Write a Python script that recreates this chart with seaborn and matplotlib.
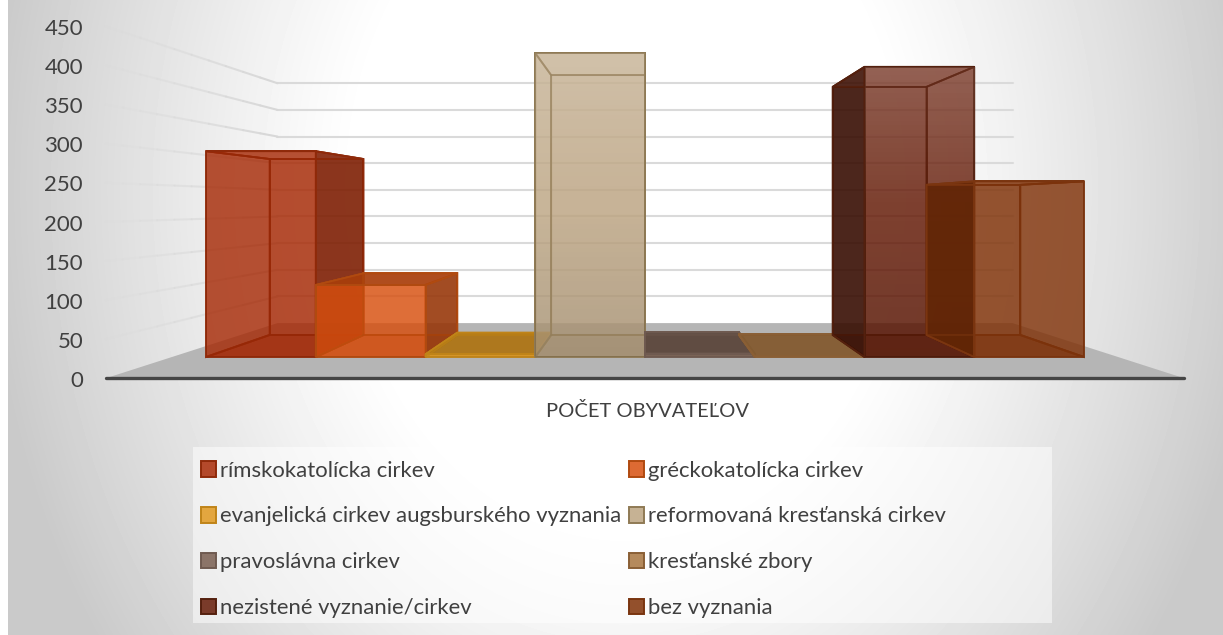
# %%
import numpy as np
import pandas as pd
import matplotlib
matplotlib.use("Agg")
import matplotlib.pyplot as plt
from matplotlib.colors import to_rgb, to_rgba
from matplotlib.patches import Patch, Rectangle
import seaborn as sns

# %% data
cirkvi = ["rímskokatolícka cirkev", "gréckokatolícka cirkev",
          "evanjelická cirkev augsburského vyznania", "reformovaná kresťanská cirkev",
          "pravoslávna cirkev", "kresťanské zbory",
          "nezistené vyznanie/cirkev", "bez vyznania"]
pocet = [300, 105, 4, 443, 5, 1, 423, 256]
y_ticks = [0, 50, 100, 150, 200, 250, 300, 350, 400, 450]
farby = ["#b4492b", "#dd6a33", "#e3a63f", "#c6b294", "#8b7468", "#b58a5c", "#7a3b2a", "#93502c"]
hrany = ["#8f2a0a", "#b04a10", "#c08418", "#8f7a55", "#6f5a50", "#8a5f35", "#54200e", "#7a3510"]
tien = [0.75, 0.7, 0.7, 0.7, 0.7, 0.7, 0.55, 0.75]

df = pd.DataFrame({"cirkev": cirkvi, "pocet": pocet})

# %% page layout, pixels
W, H = 1223, 635
sns.set_theme(style = "white")
plt.rcParams["font.family"] = ["Lato", "DejaVu Sans"]
text_col = "#404040"

fig = plt.figure(figsize = (W / 100, H / 100), dpi = 100)
fig.patch.set_facecolor("white")

def px_axes(left, right, top, bottom, **kw):
    return fig.add_axes([left / W, 1 - bottom / H, (right - left) / W, (bottom - top) / H], **kw)

# background gradient
bg = px_axes(8, W, 0, H, zorder = 0)
xx, yy = np.meshgrid(np.arange(8, W), np.arange(H))
d = np.sqrt(((xx - 625) / 640) ** 2 + ((yy - 190) / 800) ** 2)
shade = 1 - np.clip((d - 0.42) / 0.58, 0, 1) ** 1.15 * 0.21
bg.imshow(shade, cmap = "gray", vmin = 0, vmax = 1, aspect = "auto")
bg.axis("off")
fig.add_artist(Rectangle((193 / W, 1 - 623 / H), 859 / W, 176 / H, transform = fig.transFigure,
                         facecolor = "white", alpha = 0.5, edgecolor = "none", zorder = 1))

# %% bars, front plane of the 3d box
# faces are see-through, so the fill is darker than what ends up on screen
plne = [tuple(np.clip((np.array(to_rgb(c)) - 0.154) / 0.846, 0, 1)) for c in farby]

ax = px_axes(206, 1084, 48.3, 357, zorder = 3)
ax.patch.set_alpha(0)
sns.barplot(data = df, x = "cirkev", y = "pocet", hue = "cirkev", palette = plne,
            width = 1, dodge = False, legend = False, saturation = 1, ax = ax)
ax.set_xlim(-0.5, 7.5)
ax.set_ylim(0, 450)
ax.axis("off")

# one point perspective, s = scale of the depth plane
xc, vc = 3.5, 221.6
s_axis, s_bar, s_wall = 1.14, 0.855, 0.777
x_lo, x_hi = -0.81, 7.81

def proj(x, v, s):
    return xc + (x - xc) * s, vc + (v - vc) * s

def face(pts, c, a, e, z):
    xs, ys = zip(*[proj(*p) for p in pts])
    ax.fill(xs, ys, facecolor = to_rgba(c, a), edgecolor = e, lw = 1.3, clip_on = False, zorder = z)

# floor
face([(x_lo, 0, s_axis), (x_hi, 0, s_axis), (x_hi, 0, s_wall), (x_lo, 0, s_wall)],
     "#b5b5b5", 1, "none", 1)

# gridlines on back wall, the side wall part fades out to the left
for v in y_ticks[1:]:
    xs, ys = zip(proj(x_lo, v, s_wall), proj(x_hi, v, s_wall))
    ax.plot(xs, ys, color = "#dadada", lw = 1.5, clip_on = False, zorder = 2)
    for t0, a in zip(np.arange(0, 1, 0.1), np.arange(0.1, 1.1, 0.1)):
        s0 = s_axis + (s_wall - s_axis) * t0
        s1 = s0 + (s_wall - s_axis) * 0.1
        xs, ys = zip(proj(x_lo, v, s0), proj(x_lo, v, s1))
        ax.plot(xs, ys, color = "#d8d8d8", alpha = a, lw = 1.5, clip_on = False, zorder = 2)

# axis line
xs, ys = zip(proj(x_lo, 0, s_axis), proj(x_hi, 0, s_axis))
ax.plot(xs, ys, color = "#454545", lw = 2.4, solid_capstyle = "round", clip_on = False, zorder = 3)

# %% depth faces of every bar
def darker(c, k):
    return tuple(np.array(c) * k)

for i, (v, c, e, k) in enumerate(zip(pocet, plne, hrany, tien)):
    x0, x1 = i - 0.5, i + 0.5
    z = 10 + 3 * i
    back = [(x0, 0, s_bar), (x1, 0, s_bar), (x1, v, s_bar), (x0, v, s_bar)]
    floor = [(x0, 0, 1), (x1, 0, 1), (x1, 0, s_bar), (x0, 0, s_bar)]
    left = [(x0, 0, 1), (x0, v, 1), (x0, v, s_bar), (x0, 0, s_bar)]
    right = [(x1, 0, 1), (x1, v, 1), (x1, v, s_bar), (x1, 0, s_bar)]
    top = [(x0, v, 1), (x1, v, 1), (x1, v, s_bar), (x0, v, s_bar)]

    face(back, c, 0.2, e, z)
    face(floor, darker(c, 0.85), 0.5, e, z)

    # side turned to the viewer is dark, the other one only shows through
    left_out = x0 > xc
    right_out = x1 < xc
    top_seen = v < vc
    face(left, darker(c, k) if left_out else c, 0.87 if left_out else 0.12, e, z)
    face(right, darker(c, k) if right_out else c, 0.87 if right_out else 0.12, e, z)
    face(top, darker(c, 0.78) if top_seen else c, 0.9 if top_seen else 0.12, e, z)

    # inner edges stay visible through the front face
    for pts in [back, floor, left, right, top]:
        face(pts, "white", 0, to_rgba(e, 0.33), z + 2.1)

for i, (patch, c, e) in enumerate(zip(ax.patches, plne, hrany)):
    patch.set_facecolor(to_rgba(c, 0.78))
    patch.set_edgecolor(e)
    patch.set_linewidth(1.4)
    patch.set_zorder(12 + 3 * i)

# lighter at the top on the two tall bars
for i in [3, 6]:
    grad = np.zeros((64, 2, 4))
    grad[:32, :, :3] = 1
    grad[:32, :, 3] = np.linspace(0.16, 0, 32)[:, None]
    grad[32:, :, 3] = np.linspace(0, 0.1, 32)[:, None]
    im = ax.imshow(grad, extent = (i - 0.5, i + 0.5, 0, pocet[i]), aspect = "auto",
                   zorder = 12.05 + 3 * i)
    im.set_clip_path(ax.patches[i])
ax.set_xlim(-0.5, 7.5)
ax.set_ylim(0, 450)

# %% value axis and category label
ay = px_axes(90, 100, 27, 379, zorder = 4)
ay.patch.set_alpha(0)
ay.set_ylim(0, 450)
ay.set_xticks([])
ay.set_yticks(y_ticks)
ay.tick_params(axis = "y", length = 0, pad = 5, labelsize = 16, labelcolor = text_col)
sns.despine(ax = ay, left = True, bottom = True)

fig.text(647 / W, 1 - 411 / H, "POČET OBYVATEĽOV", ha = "center", va = "center",
         fontsize = 14.5, color = text_col, zorder = 5)

# %% legend
handles = [Patch(facecolor = c, edgecolor = e, lw = 1.4, label = n)
           for n, c, e in zip(cirkvi, farby, hrany)]
# column order of matplotlib is top to bottom
order = [0, 2, 4, 6, 1, 3, 5, 7]
fig.legend(handles = [handles[k] for k in order], ncol = 2, frameon = False,
           loc = "upper left", bbox_to_anchor = (194 / W, 1 - 454 / H),
           fontsize = 15.9, labelcolor = text_col, labelspacing = 1.17,
           handlelength = 0.68, handleheight = 0.72, handletextpad = 0.2,
           columnspacing = 0.33, borderpad = 0.3, borderaxespad = 0)

fig.savefig("out.png", dpi = 100)
